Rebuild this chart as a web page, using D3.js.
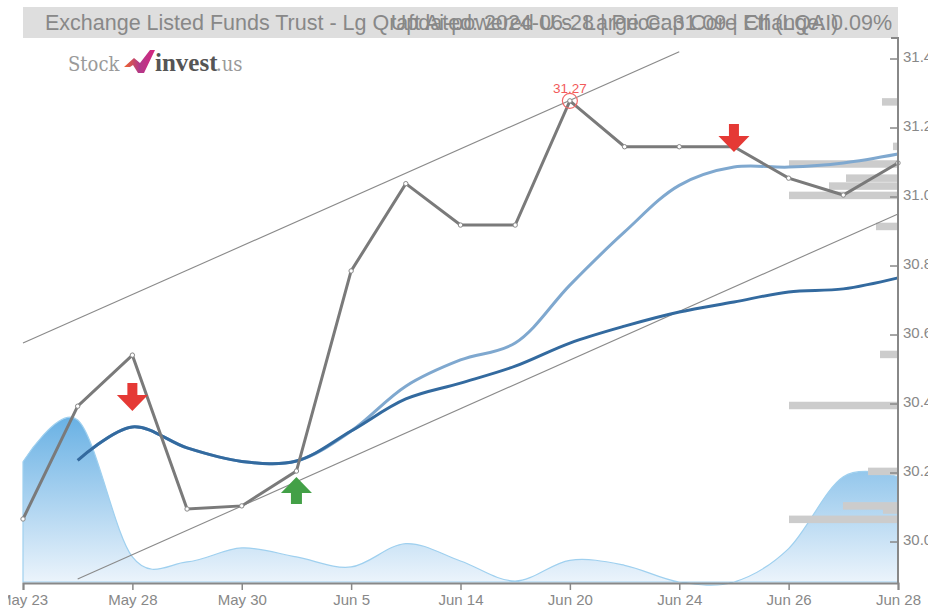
<!DOCTYPE html>
<html>
<head>
<meta charset="utf-8">
<script src="https://cdn.jsdelivr.net/npm/d3@7"></script>
<style>
	html, body { margin: 0; padding: 0; background: #fff; overflow: hidden; }
	text { font-family: "Liberation Sans", Arial, sans-serif; }
</style>
</head>
<body>
<div id="chart"></div>
<script>
// categories, every second one gets a label
const dates = ["May 23", "May 24", "May 28", "May 29", "May 30", "May 31", "Jun 5", "Jun 7", "Jun 14",
	"Jun 18", "Jun 20", "Jun 21", "Jun 24", "Jun 25", "Jun 26", "Jun 27", "Jun 28"];
const priceTicks = [30.0, 30.2, 30.4, 30.6, 30.8, 31.0, 31.2, 31.4];

const closePrice = [30.058, 30.385, 30.533, 30.087, 30.096, 30.197, 30.777, 31.03, 30.91,
	30.91, 31.27, 31.137, 31.137, 31.137, 31.046, 30.997, 31.09];
// moving averages start on the second day
const maShort = [null, 30.228, 30.325, 30.264, 30.225, 30.226, 30.313, 30.443, 30.519,
	30.568, 30.736, 30.89, 31.025, 31.078, 31.078, 31.09, 31.116];
const maLong = [null, 30.228, 30.325, 30.264, 30.225, 30.226, 30.313, 30.406, 30.452,
	30.501, 30.568, 30.617, 30.658, 30.687, 30.716, 30.725, 30.757];
const volume = [72, 97, 15, 12, 20.4, 15, 9, 23, 12.6, 0.6, 13, 10, 0, 0, 20, 63, 63];

// volume at price, right hand side
const vapPrices = [31.267, 31.138, 31.087, 31.046, 31.023, 30.996, 30.906, 30.535, 30.387, 30.196, 30.096, 30.084, 30.057];
const vapVolumes = [14.7, 4.6, 100, 47.7, 63.3, 100, 20.2, 16.5, 100, 27.5, 50.5, 13.8, 100];

// channel lines, start and end
const channelDates = [["May 23", "Jun 24"], ["May 24", "Jun 28"]];
const channelPrices = [[30.568, 31.412], [29.884, 30.942]];

const signalDates = ["May 28", "May 31", "Jun 25"];
const signalPrices = [30.371, 30.18, 31.122];
const signalTypes = ["sell", "buy", "sell"];

const peakDate = "Jun 20";
const peakPrice = 31.27;

const titleLeft = "Exchange Listed Funds Trust - Lg Qraft Ai-powered U.s. Large Cap Core Etf (LQAI)";
const titleRight = "Updated: 2024-06-28 | Price: 31.09 | Change: 0.09%";

const width = 928, height = 608;
const margin = { top: 38, right: 30, bottom: 24, left: 23 };
const grey = "#888888";

const svg = d3.select("#chart").append("svg")
	.attr("width", width)
	.attr("height", height)
	.style("display", "block");

const defs = svg.append("defs");
const grad = defs.append("linearGradient")
	.attr("id", "volume_fill")
	.attr("x1", 0).attr("x2", 0).attr("y1", 0).attr("y2", 1);
grad.append("stop").attr("offset", "0%").attr("stop-color", "#69b1e4");
grad.append("stop").attr("offset", "100%").attr("stop-color", "#eef5fc");

const logoGrad = defs.append("linearGradient")
	.attr("id", "logo_fill")
	.attr("x1", 0).attr("x2", 1).attr("y1", 0).attr("y2", 0);
logoGrad.append("stop").attr("offset", "0%").attr("stop-color", "#f0642c");
logoGrad.append("stop").attr("offset", "50%").attr("stop-color", "#b03a8a");
logoGrad.append("stop").attr("offset", "100%").attr("stop-color", "#d8257f");

// scales
const x = d3.scalePoint().domain(dates).range([margin.left, width - margin.right]);
const y = d3.scaleLinear().domain([29.8696, 31.4522]).range([height - margin.bottom, margin.top]);
const yVol = d3.scaleLinear().domain([0, 100]).range([582, 415]);
const xVap = d3.scaleLinear().domain([0, 100]).range([width - margin.right, 789]);

// title bar
svg.append("rect")
	.attr("x", margin.left).attr("y", 7)
	.attr("width", width - margin.left - margin.right).attr("height", 31)
	.attr("fill", "#dedede");
svg.append("text")
	.attr("x", 45).attr("y", 30)
	.attr("font-size", 21.5).attr("fill", grey)
	.text(titleLeft);
svg.append("text")
	.attr("x", 892).attr("y", 30)
	.attr("text-anchor", "end")
	.attr("font-size", 21.5).attr("fill", grey)
	.text(titleRight);

// logo
const logo = svg.append("g");
logo.append("text")
	.attr("x", 68).attr("y", 71)
	.attr("font-size", 20).attr("fill", "#9a9a9a")
	.style("font-family", "DejaVu Serif Condensed, DejaVu Serif, serif")
	.text("Stock");
logo.append("path")
	.attr("d", "M124,67 L134,58 L140,63 L150,50 L155,50 L144,73 L138,73 L133,65 L130,67 Z")
	.attr("fill", "url(#logo_fill)");
logo.append("text")
	.attr("x", 155).attr("y", 71)
	.attr("font-size", 25).attr("font-weight", "bold").attr("fill", "#555555")
	.style("font-family", "Liberation Serif, serif")
	.text("invest");
logo.append("text")
	.attr("x", 216).attr("y", 71)
	.attr("font-size", 20).attr("fill", "#9a9a9a")
	.style("font-family", "DejaVu Serif Condensed, DejaVu Serif, serif")
	.text(".us");

// volume area
const area = d3.area()
	.x((d, i) => x(dates[i]))
	.y0(yVol(0))
	.y1(d => yVol(d))
	.curve(d3.curveCatmullRom.alpha(0));
svg.append("path")
	.datum(volume)
	.attr("d", area)
	.attr("fill", "url(#volume_fill)")
	.attr("stroke", "#9fd0ef")
	.attr("stroke-width", 1.2);

// volume at price
svg.selectAll(".vap")
	.data(vapPrices)
	.enter()
	.append("rect")
	.attr("class", "vap")
	.attr("x", (d, i) => xVap(vapVolumes[i]))
	.attr("y", d => y(d) - 3.75)
	.attr("width", (d, i) => xVap(0) - xVap(vapVolumes[i]))
	.attr("height", 7.5)
	.attr("fill", "#cccccc");

// channel
svg.selectAll(".channel")
	.data(channelPrices)
	.enter()
	.append("line")
	.attr("class", "channel")
	.attr("x1", (d, i) => x(channelDates[i][0]))
	.attr("x2", (d, i) => x(channelDates[i][1]))
	.attr("y1", d => y(d[0]))
	.attr("y2", d => y(d[1]))
	.attr("stroke", "#8a8a8a")
	.attr("stroke-width", 1.1);

// moving averages
const maLine = d3.line()
	.defined(d => d !== null)
	.x((d, i) => x(dates[i]))
	.y(d => y(d))
	.curve(d3.curveCatmullRom.alpha(0.5));
svg.append("path").datum(maShort)
	.attr("d", maLine)
	.attr("fill", "none").attr("stroke", "#7fa8cf").attr("stroke-width", 3);
svg.append("path").datum(maLong)
	.attr("d", maLine)
	.attr("fill", "none").attr("stroke", "#336a9f").attr("stroke-width", 3);

// price
const priceLine = d3.line()
	.x((d, i) => x(dates[i]))
	.y(d => y(d));
svg.append("path").datum(closePrice)
	.attr("d", priceLine)
	.attr("fill", "none").attr("stroke", "#7a7a7a").attr("stroke-width", 3);
svg.selectAll(".pt")
	.data(closePrice)
	.enter()
	.append("circle")
	.attr("class", "pt")
	.attr("cx", (d, i) => x(dates[i]))
	.attr("cy", d => y(d))
	.attr("r", 2.2)
	.attr("fill", "#fff")
	.attr("stroke", "#888")
	.attr("stroke-width", 1);

// peak marker
svg.append("circle")
	.attr("cx", x(peakDate)).attr("cy", y(peakPrice))
	.attr("r", 7.5)
	.attr("fill", "none").attr("stroke", "#f26a6a").attr("stroke-width", 1.2);
svg.append("text")
	.attr("x", x(peakDate)).attr("y", y(peakPrice) - 8)
	.attr("text-anchor", "middle")
	.attr("font-size", 13.5).attr("fill", "#f25a5a")
	.text(d3.format(".2f")(peakPrice));

// buy / sell arrows, tip sits on the signal price
const arrowDown = "M0,0 L-15.5,-16 L-5,-16 L-5,-28 L5,-28 L5,-16 L15.5,-16 Z";
const arrowUp = "M0,0 L-15.5,16 L-5.5,16 L-5.5,27 L5.5,27 L5.5,16 L15.5,16 Z";
svg.selectAll(".signal")
	.data(signalPrices)
	.enter()
	.append("path")
	.attr("class", "signal")
	.attr("transform", (d, i) => `translate(${x(signalDates[i])},${y(d)})`)
	.attr("d", (d, i) => signalTypes[i] === "sell" ? arrowDown : arrowUp)
	.attr("fill", (d, i) => signalTypes[i] === "sell" ? "#e53935" : "#43a047");

// axes
const xAxis = svg.append("g")
	.attr("class", "x axis")
	.attr("transform", `translate(0,${height - margin.bottom - 1})`)
	.call(d3.axisBottom(x).tickValues(dates.filter((d, i) => i % 2 === 0)).tickSizeOuter(0).tickSize(7).tickPadding(4));
xAxis.selectAll("text")
	.attr("font-size", 15).attr("fill", grey).style("font-family", '"Liberation Sans"');
xAxis.selectAll("line").attr("stroke", grey).attr("stroke-width", 1.5);
xAxis.select(".domain").attr("stroke", grey).attr("stroke-width", 2);

const yAxis = svg.append("g")
	.attr("class", "y axis")
	.attr("transform", `translate(${width - margin.right},2.5)`)
	.call(d3.axisRight(y).tickValues(priceTicks).tickFormat(d3.format(".1f")).tickSizeOuter(0));
yAxis.select(".domain").remove();
yAxis.selectAll("line").attr("x2", -8).attr("stroke", grey).attr("stroke-width", 1.5);
yAxis.selectAll("text")
	.attr("x", 5).attr("dy", "0.18em")
	.attr("font-size", 15).attr("fill", grey).style("font-family", '"Liberation Sans"');
svg.append("path")
	.attr("d", d3.line()([[891, margin.top], [width - margin.right, margin.top], [width - margin.right, height - margin.bottom - 1]]))
	.attr("fill", "none").attr("stroke", grey).attr("stroke-width", 2);

// the first label runs off the plot in the original, cover the cut part
svg.append("rect")
	.attr("x", 0).attr("y", 588).attr("width", 8).attr("height", 20).attr("fill", "#fff");
</script>
</body>
</html>
